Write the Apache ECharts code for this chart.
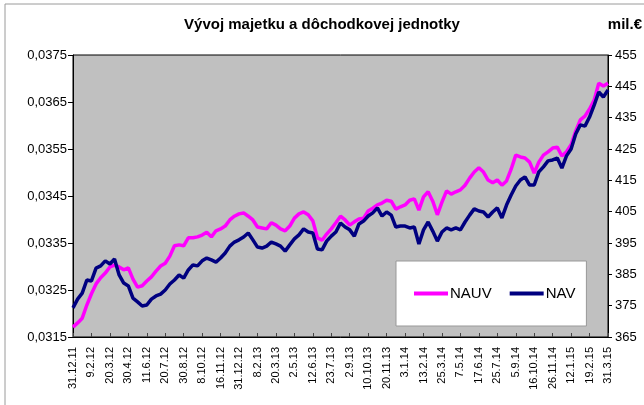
<!DOCTYPE html>
<html>
<head>
<meta charset="utf-8">
<script src="https://cdn.jsdelivr.net/npm/echarts@6/dist/echarts.min.js"></script>
<style>
  html, body { margin: 0; padding: 0; background: #fff; }
  #chart { width: 644px; height: 405px; }
</style>
</head>
<body>
<div id="chart"></div>
<script>
// tick labels on the date axis (every 4th point)
const xLabels = ['31.12.11', '9.2.12', '20.3.12', '30.4.12', '11.6.12', '20.7.12', '30.8.12', '8.10.12',
  '16.11.12', '31.12.12', '8.2.13', '20.3.13', '2.5.13', '12.6.13', '23.7.13', '2.9.13', '10.10.13',
  '20.11.13', '3.1.14', '13.2.14', '25.3.14', '7.5.14', '17.6.14', '25.7.14', '5.9.14', '16.10.14',
  '26.11.14', '12.1.15', '19.2.15', '31.3.15'];

// NAUV – value of pension unit (left axis)
const nauv = [
  0.03171, 0.03180, 0.03190, 0.03218, 0.03242, 0.03263, 0.03276, 0.03286, 0.03299, 0.03303,
  0.03299, 0.03293, 0.03297, 0.03273, 0.03256, 0.03259, 0.03269, 0.03278, 0.03290, 0.03301,
  0.03307, 0.03322, 0.03344, 0.03346, 0.03344, 0.03361, 0.03361, 0.03363, 0.03367, 0.03373,
  0.03363, 0.03376, 0.03380, 0.03386, 0.03399, 0.03407, 0.03412, 0.03414, 0.03407, 0.03399,
  0.03384, 0.03382, 0.03380, 0.03393, 0.03388, 0.03380, 0.03376, 0.03386, 0.03403, 0.03412,
  0.03416, 0.03410, 0.03397, 0.03361, 0.03356, 0.03369, 0.03380, 0.03393, 0.03407, 0.03399,
  0.03388, 0.03395, 0.03401, 0.03403, 0.03418, 0.03424, 0.03431, 0.03435, 0.03441, 0.03439,
  0.03422, 0.03427, 0.03431, 0.03441, 0.03444, 0.03420, 0.03448, 0.03459, 0.03439, 0.03410,
  0.03437, 0.03461, 0.03454, 0.03459, 0.03463, 0.03473, 0.03488, 0.03501, 0.03510, 0.03501,
  0.03484, 0.03478, 0.03484, 0.03473, 0.03482, 0.03507, 0.03537, 0.03533, 0.03531, 0.03522,
  0.03499, 0.03522, 0.03537, 0.03544, 0.03552, 0.03554, 0.03535, 0.03544, 0.03559, 0.03588,
  0.03612, 0.03620, 0.03635, 0.03654, 0.03690, 0.03684, 0.03690
];

// NAV – net asset value in mil. EUR (right axis)
const nav = [
  374.3, 377.1, 379.0, 383.2, 382.9, 387.0, 387.7, 389.3, 388.3, 389.9,
  384.8, 382.2, 381.3, 377.4, 376.2, 374.9, 375.2, 377.1, 378.1, 378.7,
  380.0, 381.9, 383.2, 384.8, 383.8, 386.4, 388.0, 387.7, 389.3, 390.2,
  389.6, 388.9, 390.2, 391.8, 394.0, 395.3, 396.0, 396.9, 398.2, 396.0,
  393.7, 393.4, 394.0, 395.3, 394.7, 394.0, 392.4, 394.4, 396.3, 397.6,
  399.5, 398.5, 398.2, 393.1, 392.8, 395.6, 397.2, 398.5, 401.4, 400.1,
  399.2, 397.2, 401.1, 402.0, 403.6, 404.6, 406.2, 403.6, 404.9, 403.9,
  400.1, 400.4, 400.4, 399.8, 400.1, 394.7, 399.2, 401.7, 398.8, 395.6,
  398.5, 399.8, 399.2, 399.8, 399.2, 401.7, 403.9, 405.9, 405.2, 404.9,
  403.3, 404.9, 406.2, 403.0, 407.1, 410.3, 413.2, 415.1, 416.1, 413.5,
  413.5, 417.7, 419.3, 421.2, 421.5, 422.1, 418.9, 422.8, 425.0, 429.8,
  432.7, 432.3, 435.2, 439.0, 443.2, 441.6, 443.8
];

const step = 4;
const categories = nauv.map((_, i) => String(i));
const font = 'Liberation Sans, Arial, sans-serif';

const chart = echarts.init(document.getElementById('chart'));

chart.setOption({
  animation: false,
  backgroundColor: '#fff',
  textStyle: { fontFamily: font },
  title: {
    text: 'Vývoj majetku a dôchodkovej jednotky',
    left: 'center',
    top: 12,
    textStyle: { fontFamily: font, fontSize: 15, fontWeight: 'bold', color: '#000' }
  },
  graphic: [
    {
      type: 'rect',
      shape: { x: 5, y: 4, width: 700, height: 500 },
      style: { fill: 'none', stroke: '#9a9a9a', lineWidth: 1 },
      silent: true
    },
    {
      type: 'text',
      right: 2,
      top: 17,
      style: { text: 'mil.€', font: 'bold 15px ' + font, fill: '#000' }
    }
  ],
  legend: {
    left: 396,
    top: 261,
    orient: 'horizontal',
    backgroundColor: '#fff',
    borderColor: '#999',
    borderWidth: 1,
    padding: [25, 11, 25, 18],
    itemGap: 18,
    itemWidth: 34,
    itemHeight: 4,
    icon: 'rect',
    textStyle: { fontFamily: font, fontSize: 15, color: '#000', padding: [0, 0, 0, -3] },
    data: ['NAUV', 'NAV']
  },
  grid: {
    left: 73,
    right: 36,
    top: 55,
    bottom: 68,
    show: true,
    backgroundColor: '#c0c0c0',
    borderColor: '#000',
    borderWidth: 1
  },
  xAxis: {
    type: 'category',
    data: categories,
    boundaryGap: false,
    axisLine: { lineStyle: { color: '#000', width: 1 } },
    axisTick: { inside: true, length: 4, interval: step - 1, lineStyle: { color: '#444' } },
    axisLabel: {
      interval: step - 1,
      rotate: 90,
      margin: 10,
      fontSize: 11,
      color: '#000',
      fontFamily: font,
      formatter: (v, idx) => xLabels[idx / step] || ''
    },
    splitLine: { show: false }
  },
  yAxis: [
    {
      type: 'value',
      min: 0.0315,
      max: 0.0375,
      interval: 0.001,
      position: 'left',
      axisLine: { show: true, lineStyle: { color: '#000' } },
      axisTick: { show: true, length: 5, lineStyle: { color: '#000' } },
      axisLabel: {
        fontSize: 13,
        color: '#000',
        margin: 6,
        fontFamily: font,
        formatter: v => v.toFixed(4).replace('.', ',')
      },
      splitLine: { show: false }
    },
    {
      type: 'value',
      min: 365,
      max: 455,
      interval: 10,
      position: 'right',
      axisLine: { show: true, lineStyle: { color: '#000' } },
      axisTick: { show: true, length: 4, lineStyle: { color: '#000' } },
      axisLabel: { fontSize: 13, color: '#000', margin: 7, fontFamily: font },
      splitLine: { show: false }
    }
  ],
  series: [
    {
      name: 'NAUV',
      type: 'line',
      yAxisIndex: 0,
      data: nauv,
      showSymbol: false,
      color: '#ff00ff',
      lineStyle: { color: '#ff00ff', width: 3.5 },
      z: 2
    },
    {
      name: 'NAV',
      type: 'line',
      yAxisIndex: 1,
      data: nav,
      showSymbol: false,
      color: '#000080',
      lineStyle: { color: '#000080', width: 3.5 },
      z: 3
    }
  ]
});
</script>
</body>
</html>
